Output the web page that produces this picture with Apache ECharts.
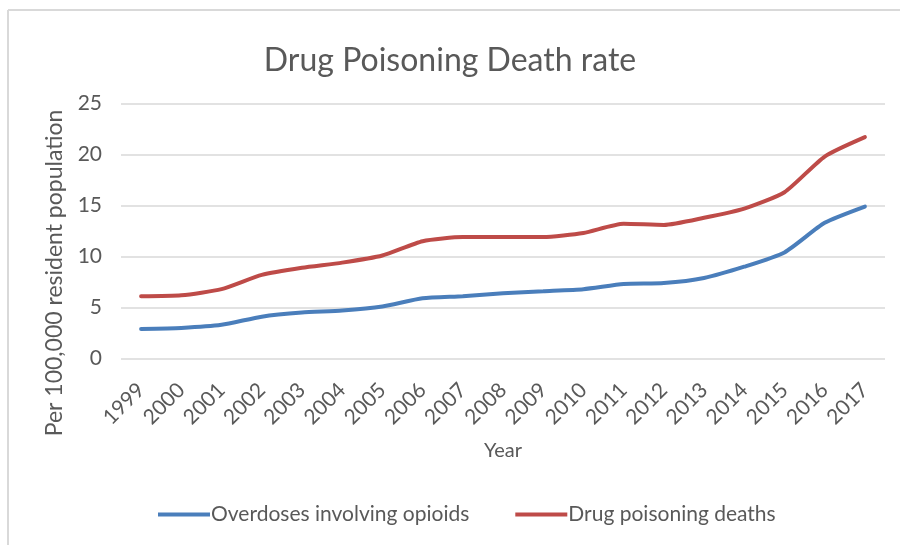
<!DOCTYPE html>
<html>
<head>
<meta charset="utf-8">
<script src="https://cdn.jsdelivr.net/npm/echarts@6/dist/echarts.min.js"></script>
<style>
html,body{margin:0;padding:0;background:#fff;}
#c{width:900px;height:545px;}
</style>
</head>
<body>
<div id="c"></div>
<script>
var years = ['1999','2000','2001','2002','2003','2004','2005','2006','2007','2008','2009','2010','2011','2012','2013','2014','2015','2016','2017'];
var opioids = [2.9, 3.0, 3.3, 4.1, 4.5, 4.7, 5.1, 5.9, 6.1, 6.4, 6.6, 6.8, 7.3, 7.4, 7.9, 9.0, 10.4, 13.3, 14.9];
var drugDeaths = [6.1, 6.2, 6.8, 8.2, 8.9, 9.4, 10.1, 11.5, 11.9, 11.9, 11.9, 12.3, 13.2, 13.1, 13.8, 14.7, 16.3, 19.8, 21.7];
var yTicks = [0, 5, 10, 15, 20, 25];
var yTitle = 'Per 100,000 resident population';

var FONT = 'Lato';
var TXT = '#595959';
var chart = echarts.init(document.getElementById('c'));
chart.setOption({
  backgroundColor: '#fff',
  animation: false,
  textStyle: { fontFamily: FONT, color: TXT },
  title: {
    text: 'Drug Poisoning Death rate',
    left: 'center',
    top: 40,
    textStyle: { fontFamily: FONT, fontSize: 32, fontWeight: 'normal', color: TXT }
  },
  graphic: [
    { type: 'line', shape: { x1: 8, y1: 10, x2: 900, y2: 10 }, style: { stroke: '#d9d9d9', lineWidth: 2 } },
    { type: 'line', shape: { x1: 8, y1: 10, x2: 8, y2: 545 }, style: { stroke: '#d9d9d9', lineWidth: 2 } },
    { type: 'text', x: 55, y: 273, rotation: Math.PI / 2,
      style: { text: yTitle, font: '23px Lato', fill: TXT, textAlign: 'center', textVerticalAlign: 'middle' } }
  ],
  grid: { left: 121, right: 15, top: 103.5, bottom: 186.5, containLabel: false },
  legend: {
    bottom: 15,
    left: 153,
    itemWidth: 52,
    itemHeight: 4,
    itemGap: 46,
    icon: 'rect',
    textStyle: { fontFamily: FONT, fontSize: 21, color: TXT, padding: [0, 0, 0, -4] },
    data: ['Overdoses involving opioids', 'Drug poisoning deaths']
  },
  xAxis: {
    type: 'category',
    data: years,
    boundaryGap: true,
    name: 'Year',
    nameLocation: 'middle',
    nameGap: 82,
    nameTextStyle: { fontFamily: FONT, fontSize: 20, color: TXT },
    axisLine: { show: false },
    axisTick: { show: false },
    axisLabel: { rotate: 45, fontSize: 21, color: TXT, margin: 28, fontFamily: FONT, interval: 0 }
  },
  yAxis: {
    type: 'value',
    min: yTicks[0],
    max: yTicks[yTicks.length - 1],
    interval: 5,
    axisLine: { show: false },
    axisTick: { show: false },
    axisLabel: { fontSize: 21, color: TXT, margin: 19, fontFamily: FONT },
    splitLine: { lineStyle: { color: '#d9d9d9', width: 1.5 } }
  },
  series: [
    {
      name: 'Overdoses involving opioids',
      type: 'line',
      data: opioids,
      symbol: 'none',
      smooth: 0.2,
      itemStyle: { color: '#4a7ebb' },
      lineStyle: { color: '#4a7ebb', width: 4, cap: 'round' }
    },
    {
      name: 'Drug poisoning deaths',
      type: 'line',
      data: drugDeaths,
      symbol: 'none',
      smooth: 0.2,
      itemStyle: { color: '#be4b48' },
      lineStyle: { color: '#be4b48', width: 4, cap: 'round' }
    }
  ]
});
</script>
</body>
</html>
